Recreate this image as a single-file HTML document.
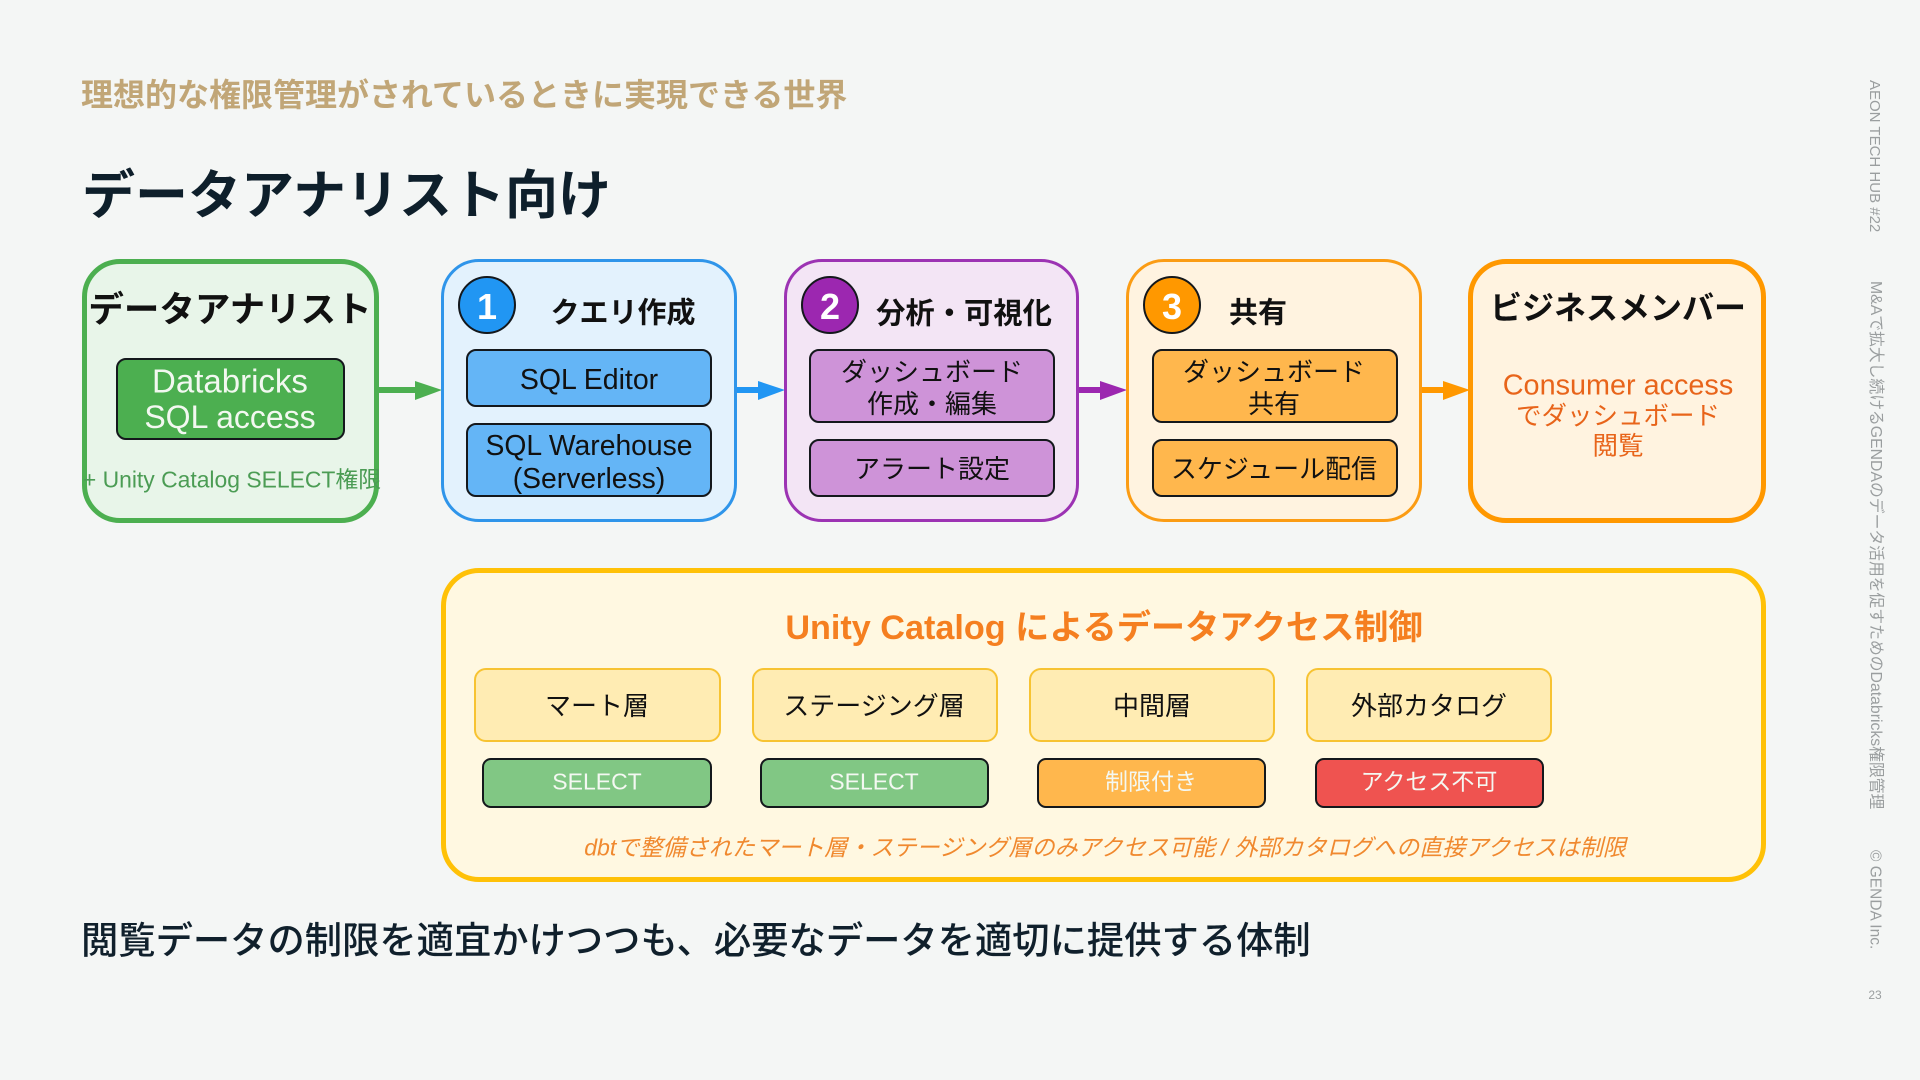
<!DOCTYPE html>
<html lang="ja"><head><meta charset="utf-8"><style>
html,body{margin:0;padding:0;width:1920px;height:1080px;overflow:hidden;background:#f4f6f5}
body{position:relative;font-family:"Liberation Sans","Noto Sans CJK JP",sans-serif}
.b{position:absolute;box-sizing:border-box}
.o{border-radius:38px}
.i{border:2px solid #14181c;border-radius:10px}
.t{position:absolute;white-space:nowrap;transform:translate(-50%,-50%);line-height:1;color:#111}
.l{position:absolute;white-space:nowrap;transform:translateY(-50%);line-height:1}
.c{border:2px solid #14181c;border-radius:50%;width:58px;height:58px;top:276px}
.n{font-size:36px;font-weight:700;color:#fff}
.h{font-weight:700;font-size:29px}
.s{font-size:26px}
.y{background:#ffecb3;border:2px solid #f7c332;border-radius:12px;top:668px;width:246px;height:74px}
.p{border:2px solid #14181c;border-radius:9px;top:758px;width:229px;height:50px}
.w{font-size:23px;color:#f4f8f2}
.v{position:absolute;writing-mode:vertical-rl;text-orientation:sideways;white-space:nowrap;color:#9a9e9f;line-height:1}
</style></head><body>
<div class="l" style="left:81px;top:95px;font-size:32px;font-weight:700;color:#c1a677">理想的な権限管理がされているときに実現できる世界</div>
<div class="l" style="left:82px;top:196px;font-size:53px;font-weight:700;color:#0e1f2b">データアナリスト向け</div>

<svg class="b" style="left:0;top:0" width="1920" height="1080">
<g><rect x="379" y="387" width="38" height="6" fill="#4caf50"/><polygon points="415,381 442,390 415,400" fill="#4caf50"/>
<rect x="736" y="387" width="28" height="6" fill="#2196f3"/><polygon points="758,381 785,390 758,400" fill="#2196f3"/>
<rect x="1078" y="387" width="26" height="6" fill="#9c27b0"/><polygon points="1100,381 1127,390 1100,400" fill="#9c27b0"/>
<rect x="1421" y="387" width="26" height="6" fill="#ff9800"/><polygon points="1443,381 1470,390 1443,400" fill="#ff9800"/></g>
</svg>

<div class="b o" style="left:82px;top:259px;width:297px;height:264px;background:#e8f5e9;border:5px solid #4caf50"></div>
<div class="t" style="left:230px;top:310px;font-size:35.5px;font-weight:700">データアナリスト</div>
<div class="b i" style="left:116px;top:358px;width:229px;height:82px;background:#4caf50"></div>
<div class="t" style="left:230px;top:381px;font-size:33px;color:#f2f8f0">Databricks</div>
<div class="t" style="left:230px;top:417px;font-size:32px;color:#f2f8f0">SQL access</div>
<div class="t" style="left:232px;top:480px;font-size:22.9px;color:#4b9c54">+ Unity Catalog SELECT権限</div>

<div class="b o" style="left:441px;top:259px;width:296px;height:263px;background:#e3f2fd;border:3.5px solid #2f95ea"></div>
<div class="b c" style="left:458px;background:#2196f3"></div>
<div class="t n" style="left:487px;top:307px">1</div>
<div class="t h" style="left:623px;top:314px">クエリ作成</div>
<div class="b i" style="left:466px;top:349px;width:246px;height:58px;background:#64b5f6"></div>
<div class="t" style="left:589px;top:380px;font-size:28.5px">SQL Editor</div>
<div class="b i" style="left:466px;top:423px;width:246px;height:74px;background:#64b5f6"></div>
<div class="t" style="left:589px;top:445px;font-size:28.3px">SQL Warehouse</div>
<div class="t" style="left:589px;top:478px;font-size:28.3px">(Serverless)</div>

<div class="b o" style="left:784px;top:259px;width:295px;height:263px;background:#f3e5f5;border:3.5px solid #9c33b3"></div>
<div class="b c" style="left:801px;background:#9c27b0"></div>
<div class="t n" style="left:830px;top:307px">2</div>
<div class="t h" style="left:964px;top:314px;font-size:29.3px">分析・可視化</div>
<div class="b i" style="left:809px;top:349px;width:246px;height:74px;background:#ce93d8"></div>
<div class="t s" style="left:932px;top:372px">ダッシュボード</div>
<div class="t s" style="left:932px;top:404px">作成・編集</div>
<div class="b i" style="left:809px;top:439px;width:246px;height:58px;background:#ce93d8"></div>
<div class="t s" style="left:932px;top:469px">アラート設定</div>

<div class="b o" style="left:1126px;top:259px;width:296px;height:263px;background:#fff3e0;border:3.5px solid #fb9c14"></div>
<div class="b c" style="left:1143px;background:#ff9800"></div>
<div class="t n" style="left:1172px;top:307px">3</div>
<div class="t h" style="left:1258px;top:314px">共有</div>
<div class="b i" style="left:1152px;top:349px;width:246px;height:74px;background:#ffb74d"></div>
<div class="t s" style="left:1274px;top:372px">ダッシュボード</div>
<div class="t s" style="left:1274px;top:404px">共有</div>
<div class="b i" style="left:1152px;top:439px;width:246px;height:58px;background:#ffb74d"></div>
<div class="t s" style="left:1274px;top:469px">スケジュール配信</div>

<div class="b o" style="left:1468px;top:259px;width:298px;height:264px;background:#fff3e0;border:5px solid #ff9800"></div>
<div class="t" style="left:1618px;top:308px;font-size:32px;font-weight:700">ビジネスメンバー</div>
<div class="t s" style="left:1618px;top:386px;color:#e8641a;font-size:28.8px">Consumer access</div>
<div class="t s" style="left:1618px;top:417px;color:#e8641a;font-size:25.5px">でダッシュボード</div>
<div class="t s" style="left:1618px;top:447px;color:#e8641a;font-size:25.5px">閲覧</div>

<div class="b" style="left:441px;top:568px;width:1325px;height:314px;background:#fff8e1;border:5px solid #ffc107;border-radius:38px"></div>
<div class="t" style="left:1104px;top:628px;font-size:34.2px;font-weight:700;color:#f57f20">Unity Catalog によるデータアクセス制御</div>

<div class="b y" style="left:474px;width:247px"></div><div class="t s" style="left:597px;top:706px">マート層</div>
<div class="b y" style="left:752px"></div><div class="t s" style="left:874px;top:706px">ステージング層</div>
<div class="b y" style="left:1029px"></div><div class="t s" style="left:1152px;top:706px">中間層</div>
<div class="b y" style="left:1306px"></div><div class="t s" style="left:1429px;top:706px">外部カタログ</div>

<div class="b p" style="left:482px;width:230px;background:#81c784"></div><div class="t w" style="left:597px;top:782px">SELECT</div>
<div class="b p" style="left:760px;background:#81c784"></div><div class="t w" style="left:874px;top:782px">SELECT</div>
<div class="b p" style="left:1037px;background:#ffb74d"></div><div class="t w" style="left:1151px;top:782px">制限付き</div>
<div class="b p" style="left:1315px;background:#ef5350"></div><div class="t w" style="left:1429px;top:782px">アクセス不可</div>

<div class="t" style="left:1105px;top:848px;font-size:23.1px;font-style:italic;color:#f0892f">dbtで整備されたマート層・ステージング層のみアクセス可能 / 外部カタログへの直接アクセスは制限</div>

<div class="l" style="left:81px;top:941px;font-size:37.3px;font-weight:500;color:#10202c">閲覧データの制限を適宜かけつつも、必要なデータを適切に提供する体制</div>

<div class="v" style="left:1867px;top:80px;font-size:15px">AEON TECH HUB #22</div>
<div class="v" style="left:1867px;top:281px;font-size:15.8px">M&amp;Aで拡大し続けるGENDAのデータ活用を促すためのDatabricks権限管理</div>
<div class="v" style="left:1867px;top:850px;font-size:15.5px">© GENDA Inc.</div>
<div class="t" style="left:1875px;top:995px;font-size:12px;color:#9a9e9f">23</div>
</body></html>
